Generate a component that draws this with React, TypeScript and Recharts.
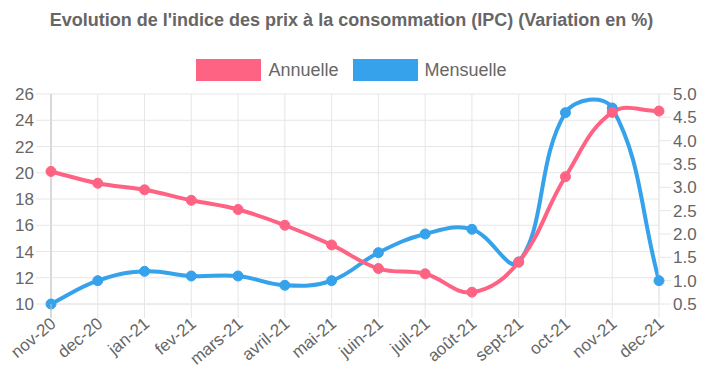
import React from 'react';
import { LineChart, Line, XAxis, YAxis, CartesianGrid } from 'recharts';

const months = ['nov-20', 'dec-20', 'jan-21', 'fev-21', 'mars-21', 'avril-21', 'mai-21', 'juin-21', 'juil-21', 'août-21', 'sept-21', 'oct-21', 'nov-21', 'dec-21'];
const annuelle = [20.1, 19.2, 18.7, 17.9, 17.2, 16.0, 14.5, 12.7, 12.3, 10.9, 13.2, 19.7, 24.6, 24.7];
const mensuelle = [0.5, 1.0, 1.2, 1.1, 1.1, 0.9, 1.0, 1.6, 2.0, 2.1, 1.4, 4.6, 4.7, 1.0];
const leftTicks = [10, 12, 14, 16, 18, 20, 22, 24, 26];
const rightTicks = [0.5, 1.0, 1.5, 2.0, 2.5, 3.0, 3.5, 4.0, 4.5, 5.0];

const TITLE = "Evolution de l'indice des prix à la consommation (IPC) (Variation en %)";
const PINK = '#ff6384';
const BLUE = '#36a2eb';
const TEXT = '#666';
const GRID = '#e6e6e6';
const FONT = '"Liberation Sans", Arial, Helvetica, sans-serif';

const data = months.map((m, i) => ({ month: m, annuelle: annuelle[i], mensuelle: mensuelle[i] }));

const PLOT_TOP = 94;
const PLOT_BOTTOM = 304;
const PLOT_LEFT = 51;
const PLOT_RIGHT = 659;

// Chart.js style spline (tension 0.4, control points capped to chart area)
const makeChartJsCurve = (tension: number) => (ctx: any) => {
  let xs: number[] = [];
  let ys: number[] = [];
  const cap = (v: number, min: number, max: number) => Math.max(Math.min(v, max), min);
  return {
    areaStart() {},
    areaEnd() {},
    lineStart() {
      xs = [];
      ys = [];
    },
    point(x: number, y: number) {
      xs.push(+x);
      ys.push(+y);
    },
    lineEnd() {
      const n = xs.length;
      if (!n) return;
      ctx.moveTo(xs[0], ys[0]);
      if (n === 1) return;
      const cps: { px: number; py: number; nx: number; ny: number }[] = [];
      for (let i = 0; i < n; i++) {
        const p = i > 0 ? i - 1 : i;
        const q = i < n - 1 ? i + 1 : i;
        const d01 = Math.hypot(xs[i] - xs[p], ys[i] - ys[p]);
        const d12 = Math.hypot(xs[q] - xs[i], ys[q] - ys[i]);
        let s01 = d01 / (d01 + d12);
        let s12 = d12 / (d01 + d12);
        if (isNaN(s01)) s01 = 0;
        if (isNaN(s12)) s12 = 0;
        const fa = tension * s01;
        const fb = tension * s12;
        cps.push({
          px: cap(xs[i] - fa * (xs[q] - xs[p]), PLOT_LEFT, PLOT_RIGHT),
          py: cap(ys[i] - fa * (ys[q] - ys[p]), PLOT_TOP, PLOT_BOTTOM),
          nx: cap(xs[i] + fb * (xs[q] - xs[p]), PLOT_LEFT, PLOT_RIGHT),
          ny: cap(ys[i] + fb * (ys[q] - ys[p]), PLOT_TOP, PLOT_BOTTOM),
        });
      }
      for (let i = 1; i < n; i++) {
        ctx.bezierCurveTo(cps[i - 1].nx, cps[i - 1].ny, cps[i].px, cps[i].py, xs[i], ys[i]);
      }
    },
  };
};

const chartJsCurve = makeChartJsCurve(0.4);

const XTick = (props: any) => {
  const { x, y, payload, index } = props;
  const ax = x + 3;
  const ay = y + 4;
  return (
    <g>
      {index === 0 && <line x1={x} x2={x} y1={y - 14} y2={y} stroke="#bfbfbf" strokeWidth={1} />}
      <text
        x={ax}
        y={ay}
        transform={`rotate(-40, ${ax}, ${ay})`}
        textAnchor="end"
        dominantBaseline="middle"
        fill={TEXT}
        fontSize={17}
        fontFamily={FONT}
      >
        {payload.value}
      </text>
    </g>
  );
};

const LegendItem = ({ color, label }: { color: string; label: string }) => (
  <div style={{ display: 'flex', alignItems: 'center' }}>
    <div style={{ width: 65, height: 22, background: color }} />
    <span style={{ marginLeft: 7, fontSize: 18, color: TEXT, lineHeight: '18px' }}>{label}</span>
  </div>
);

export default function App() {
  return (
    <div style={{ position: 'absolute', left: 0, top: 0, width: 713, height: 372, background: '#fff', fontFamily: FONT }}>
      <div
        style={{
          position: 'absolute',
          left: 0,
          top: 11,
          width: 703,
          textAlign: 'center',
          fontSize: 18,
          fontWeight: 'bold',
          color: TEXT,
          lineHeight: '18px',
          whiteSpace: 'nowrap',
        }}
      >
        {TITLE}
      </div>
      <div
        style={{
          position: 'absolute',
          left: 0,
          top: 59,
          width: 703,
          display: 'flex',
          justifyContent: 'center',
          gap: 14,
        }}
      >
        <LegendItem color={PINK} label="Annuelle" />
        <LegendItem color={BLUE} label="Mensuelle" />
      </div>
      <LineChart width={713} height={372} data={data} margin={{ top: PLOT_TOP, right: 0, bottom: 0, left: 0 }}>
        <CartesianGrid yAxisId="left" stroke={GRID} strokeWidth={1} />
        <XAxis
          dataKey="month"
          interval={0}
          height={68}
          padding={{ left: 0, right: 0 }}
          tickSize={14}
          tickMargin={0}
          tickLine={{ stroke: GRID }}
          axisLine={{ stroke: GRID }}
          tick={<XTick />}
        />
        <YAxis
          yAxisId="left"
          orientation="left"
          width={51}
          domain={[10, 26]}
          ticks={leftTicks}
          interval={0}
          tickSize={15}
          tickMargin={2}
          tickLine={{ stroke: GRID }}
          axisLine={{ stroke: '#bfbfbf' }}
          tick={{ fill: TEXT, fontSize: 17, fontFamily: FONT }}
        />
        <YAxis
          yAxisId="right"
          orientation="right"
          width={54}
          domain={[0.5, 5.0]}
          ticks={rightTicks}
          interval={0}
          tickSize={12}
          tickMargin={2}
          tickLine={{ stroke: GRID }}
          axisLine={{ stroke: GRID }}
          tickFormatter={(v: number) => v.toFixed(1)}
          tick={{ fill: TEXT, fontSize: 17, fontFamily: FONT, textAnchor: 'start' }}
        />
        <Line
          yAxisId="right"
          dataKey="mensuelle"
          type={chartJsCurve as any}
          stroke={BLUE}
          strokeWidth={4}
          dot={{ r: 5, fill: BLUE, stroke: BLUE, strokeWidth: 1 }}
          activeDot={false}
          isAnimationActive={false}
        />
        <Line
          yAxisId="left"
          dataKey="annuelle"
          type={chartJsCurve as any}
          stroke={PINK}
          strokeWidth={4}
          dot={{ r: 5, fill: PINK, stroke: PINK, strokeWidth: 1 }}
          activeDot={false}
          isAnimationActive={false}
        />
      </LineChart>
    </div>
  );
}
